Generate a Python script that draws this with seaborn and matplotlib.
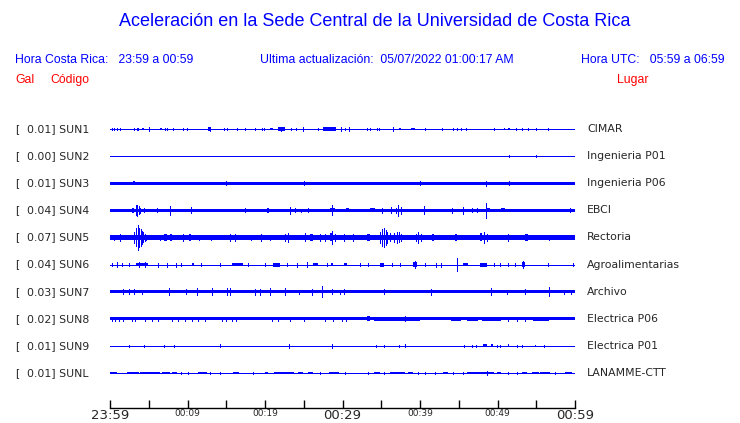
import numpy as np
import pandas as pd
import seaborn as sns
import matplotlib.pyplot as plt
from matplotlib.transforms import blended_transform_factory

# station table
codes = ['SUN1', 'SUN2', 'SUN3', 'SUN4', 'SUN5', 'SUN6', 'SUN7', 'SUN8', 'SUN9', 'SUNL']
places = ['CIMAR', 'Ingenieria P01', 'Ingenieria P06', 'EBCI', 'Rectoria',
          'Agroalimentarias', 'Archivo', 'Electrica P06', 'Electrica P01', 'LANAMME-CTT']
peak_gal = [0.01, 0.00, 0.01, 0.04, 0.07, 0.04, 0.03, 0.02, 0.01, 0.01]

# continuous noise level of each trace (gal, half amplitude)
base_gal = [0.003, 0.003, 0.009, 0.008, 0.012, 0.003, 0.010, 0.009, 0.003, 0.003]

# bursts: (start minute, end minute, half amplitude in gal)
ev_sun1 = [(0.2, 0.2, .007), (0.5, 0.6, .008), (0.86, .86, .007), (1.29, 1.29, .007), (3.14, 3.14, .007),
           (3.44, 3.44, .007), (3.66, 3.66, .006), (4.1, 4.4, .008), (5.07, 5.07, .013), (6.4, 6.7, .008),
           (7.1, 7.1, .007), (7.31, 7.31, .007), (8.08, 8.08, .007), (9.46, 9.46, .007), (9.89, 9.89, .006),
           (12.7, 13.0, .009), (12.9, 12.9, .012), (14.75, 14.75, .006), (15.05, 15.05, .006),
           (16.34, 16.34, .007), (17.42, 17.42, .007), (18.7, 18.9, .008), (19.57, 19.57, .007),
           (19.91, 19.91, .007), (20.7, 21.0, .008), (21.7, 22.6, .009), (22.0, 22.0, .012),
           (23.35, 23.35, .007), (24.0, 24.2, .008), (24.94, 24.94, .012), (26.88, 26.88, .006),
           (27.5, 29.2, .009), (29.76, 29.76, .012), (30.32, 30.32, .008), (30.8, 31.0, .01),
           (30.87, 30.87, .013), (33.11, 33.11, .007), (33.54, 33.54, .008), (34.4, 34.4, .006),
           (34.74, 34.74, .007), (36.55, 36.55, .012), (37.3, 37.5, .008), (38.9, 39.3, .008),
           (40.64, 40.64, .007), (42.87, 42.87, .007), (44.2, 44.2, .007), (44.72, 44.72, .007),
           (45.24, 45.24, .007), (45.88, 45.88, .007), (49.58, 49.58, .007), (50.8, 51.0, .008),
           (51.3, 51.6, .008), (52.33, 52.33, .007), (53.19, 53.19, .007), (53.88, 53.88, .006),
           (54.91, 54.91, .007), (56.55, 56.55, .005)]
ev_sun2 = [(51.47, 51.47, .006), (54.91, 54.91, .006)]
ev_sun3 = [(3.0, 3.2, .010), (15.0, 15.2, .010), (25.0, 25.0, .010), (40.0, 40.0, .010),
           (48.5, 48.5, .014), (51.5, 51.5, .011)]
ev_sun4 = [(2.9, 3.1, .015), (3.3, 3.3, .027), (3.5, 3.5, .03), (3.7, 3.7, .022), (3.9, 4.0, .013),
           (4.39, 4.39, .012), (6.1, 6.1, .012), (7.74, 7.74, .025), (10.45, 10.45, .017),
           (17.4, 17.4, .011), (20.2, 20.5, .013), (23.2, 23.2, .018), (23.9, 24.0, .011),
           (24.7, 24.7, .01), (25.6, 25.6, .011), (28.4, 29.0, .012), (28.7, 28.7, .027),
           (30.5, 30.9, .012), (33.6, 34.2, .011), (35.1, 35.1, .015), (36.2, 36.2, .016),
           (36.9, 37.0, .015), (37.2, 37.2, .03), (37.5, 37.5, .018), (40.5, 40.5, .022),
           (44.1, 44.1, .013), (45.6, 45.6, .018), (46.7, 46.7, .011), (47.3, 47.3, .011),
           (48.5, 48.5, .042), (48.7, 49.0, .012), (50.5, 51.0, .011), (59.3, 59.3, .011)]
ev_sun5 = [(0.5, 0.6, .016), (1.3, 1.5, .017), (2.0, 2.2, .016), (3.1, 3.2, .03), (3.4, 3.4, .05),
           (3.55, 3.55, .062), (3.66, 3.66, .07), (3.8, 3.8, .055), (3.95, 3.95, .045), (4.1, 4.1, .035),
           (4.3, 4.3, .028), (4.5, 4.5, .02), (4.7, 4.8, .016), (6.5, 6.6, .016), (7.0, 7.3, .019),
           (7.7, 8.0, .017), (9.4, 9.6, .018), (10.2, 10.4, .019), (11.5, 11.7, .016), (13.0, 13.2, .016),
           (15.5, 15.7, .017), (16.1, 16.1, .019), (18.2, 18.4, .016), (19.5, 19.7, .017),
           (20.6, 20.8, .016), (22.6, 22.8, .019), (23.0, 23.0, .024), (25.1, 25.1, .022),
           (25.8, 26.2, .02), (27.1, 27.3, .017), (27.7, 27.7, .018), (28.4, 28.6, .022),
           (28.7, 28.7, .038), (29.0, 29.2, .02), (30.2, 30.3, .018), (31.4, 31.4, .019),
           (33.2, 33.5, .017), (34.9, 35.0, .03), (35.15, 35.15, .045), (35.4, 35.4, .053),
           (35.6, 35.6, .042), (35.8, 35.9, .03), (36.1, 36.3, .022), (36.7, 36.7, .024),
           (37.0, 37.0, .033), (37.25, 37.25, .028), (37.5, 37.6, .018), (39.5, 39.6, .02),
           (39.8, 39.8, .03), (40.1, 40.2, .02), (41.5, 41.8, .017), (43.0, 43.3, .016),
           (44.5, 44.8, .017), (46.3, 46.6, .016), (47.8, 48.0, .022), (48.3, 48.3, .033),
           (48.6, 48.7, .02), (51.4, 51.4, .017), (53.5, 53.9, .019), (54.8, 55.0, .016),
           (56.7, 56.9, .015)]
ev_sun6 = [(0.2, 0.2, .008), (0.86, 0.86, .016), (1.5, 1.5, .01), (2.45, 2.45, .008), (3.4, 4.9, .009),
           (3.7, 3.7, .013), (4.5, 4.5, .013), (6.2, 6.2, .011), (7.4, 7.6, .011), (8.5, 8.5, .011),
           (9.1, 9.1, .007), (10.6, 10.9, .009), (11.8, 11.8, .007), (14.2, 14.2, .006),
           (15.7, 17.2, .009), (17.8, 17.8, .007), (20.0, 20.0, .009), (21.0, 21.9, .011),
           (22.9, 22.9, .007), (24.1, 24.1, .011), (25.4, 25.4, .014), (26.2, 26.9, .009),
           (28.0, 28.0, .009), (28.5, 28.8, .009), (30.2, 30.6, .009), (32.2, 32.2, .009),
           (33.3, 33.3, .006), (34.8, 35.3, .011), (36.4, 36.4, .009), (37.4, 37.4, .009),
           (39.1, 39.6, .012), (39.3, 39.3, .018), (40.6, 40.6, .007), (42.0, 42.0, .011),
           (42.7, 42.7, .011), (44.8, 44.8, .038), (45.5, 46.2, .008), (47.8, 48.6, .011),
           (49.5, 49.5, .008), (50.3, 50.3, .008), (51.4, 51.4, .009), (52.2, 52.2, .007),
           (53.1, 53.6, .012), (53.3, 53.3, .018), (56.5, 56.5, .009), (59.8, 59.8, .007)]
ev_sun7 = [(1.7, 1.7, .014), (2.45, 2.45, .014), (3.14, 3.14, .013), (4.17, 4.17, .012), (7.6, 7.6, .018),
           (9.76, 9.76, .014), (11.2, 11.2, .018), (13.2, 13.2, .021), (15.05, 15.05, .018),
           (15.5, 15.5, .018), (18.7, 18.7, .016), (19.35, 19.35, .016), (20.6, 20.6, .018),
           (22.6, 22.6, .018), (24.4, 24.4, .012), (26.1, 26.1, .016), (27.4, 27.4, .03),
           (28.6, 28.6, .013), (29.7, 29.7, .012), (30.2, 30.2, .014), (35.4, 35.4, .014),
           (41.4, 41.4, .016), (49.2, 49.2, .018), (51.2, 51.2, .012), (53.6, 53.6, .013),
           (56.7, 56.7, .024), (58.6, 58.6, .012), (59.5, 59.5, .012)]
ev_sun8 = [(0.2, 0.2, .012), (0.65, .65, .012), (1.1, 1.1, .012), (1.7, 1.7, .012), (2.8, 2.8, .012),
           (3.2, 3.2, .012), (4.5, 4.5, .012), (5.4, 5.4, .012), (6.2, 6.2, .012), (8.0, 8.0, .012),
           (8.8, 8.8, .011), (9.7, 9.7, .011), (10.6, 10.6, .011), (11.4, 11.4, .011), (12.3, 12.3, .011),
           (14.4, 14.4, .012), (15.0, 15.0, .012), (15.7, 15.7, .012), (16.3, 16.3, .011),
           (20.9, 20.9, .011), (21.7, 21.7, .011), (23.2, 23.2, .012), (25.0, 25.0, .011),
           (27.7, 27.7, .012), (28.8, 28.8, .012), (29.9, 29.9, .011), (30.5, 30.5, .011),
           (33.2, 33.5, .013), (34.0, 40.0, .0115), (38.0, 38.0, .014), (44.0, 45.3, .012),
           (46.0, 47.5, .012), (48.0, 50.5, .012), (51.4, 51.4, .012), (52.5, 52.5, .012),
           (53.6, 53.6, .012), (54.6, 56.6, .012)]
ev_sun9 = [(2.4, 2.4, .006), (4.4, 4.4, .006), (7.0, 7.0, .006), (8.2, 8.2, .006), (14.2, 14.2, .008),
           (23.1, 23.1, .01), (28.7, 28.7, .01), (34.3, 34.3, .006), (35.4, 35.4, .007), (37.3, 37.3, .007),
           (38.1, 38.1, .008), (45.7, 45.7, .006), (46.7, 46.7, .007), (47.2, 47.2, .006),
           (48.1, 48.6, .009), (49.1, 49.4, .009), (49.9, 49.9, .006), (50.3, 50.3, .006),
           (51.3, 51.5, .008), (52.5, 52.5, .006), (53.1, 53.1, .006), (54.8, 55.0, .007), (56.0, 56.0, .006)]
ev_sunl = [(0.0, 0.9, .008), (2.2, 3.7, .008), (3.9, 6.5, .008), (6.7, 7.7, .007), (8.0, 8.6, .007),
           (9.2, 9.2, .007), (10.0, 10.0, .007), (11.4, 12.5, .008), (12.9, 12.9, .007), (14.2, 14.2, .007),
           (15.9, 16.6, .008), (18.5, 18.5, .007), (20.0, 20.4, .007), (21.1, 23.7, .008),
           (24.3, 24.9, .007), (25.5, 26.2, .008), (27.1, 27.1, .006), (28.2, 29.5, .008),
           (30.3, 30.3, .006), (33.3, 33.3, .006), (34.1, 34.8, .008), (35.3, 35.3, .006),
           (36.1, 38.1, .008), (38.5, 39.1, .008), (39.8, 39.8, .006), (40.6, 40.6, .006),
           (41.9, 41.9, .006), (43.0, 43.6, .008), (44.3, 44.3, .006), (45.6, 45.6, .006),
           (46.0, 49.5, .008), (48.7, 48.8, .012), (49.9, 50.5, .008), (51.4, 51.4, .006),
           (52.5, 52.5, .006), (53.1, 53.8, .008), (54.4, 55.3, .008), (55.5, 56.8, .008),
           (57.4, 57.4, .006), (58.7, 59.6, .008)]
events = [ev_sun1, ev_sun2, ev_sun3, ev_sun4, ev_sun5, ev_sun6, ev_sun7, ev_sun8, ev_sun9, ev_sunl]

tick_min = list(range(0, 61, 5))
tick_txt = {0: '23:59', 10: '00:09', 20: '00:19', 30: '00:29', 40: '00:39', 50: '00:49', 60: '00:59'}

BLUE = '#0000ff'
RED = '#ff0000'
k = 6.64   # rows per gal

sns.set_theme(style='white')
plt.rcParams['font.family'] = ['DejaVu Sans']

fig = plt.figure(figsize=(7.4, 4.23), dpi=100)
ax = fig.add_axes([110 / 740, 1 - 408 / 423, 465 / 740, (408 - 115) / 423])

# baselines
df = pd.DataFrame({'minute': [0, 60] * len(codes),
                   'row': np.repeat(np.arange(len(codes)), 2),
                   'code': np.repeat(codes, 2)})
sns.lineplot(data=df, x='minute', y='row', units='code', estimator=None,
             color=BLUE, lw=0.7, ax=ax, antialiased=False)

for i in range(len(codes)):
    b = base_gal[i]
    if b > 0.004:
        ax.fill_between([0, 60], i - b * k, i + b * k, color=BLUE, linewidth=0,
                        antialiased=False)
    for t0, t1, a in events[i]:
        if t1 - t0 >= 0.2:
            ax.fill_between([t0, t1], i - a * k, i + a * k, color=BLUE, linewidth=0,
                            antialiased=False)
        else:
            ax.vlines(t0, i - a * k, i + a * k, color=BLUE, linewidth=0.72,
                      antialiased=False)

ax.set_xlim(0, 60)
ax.set_ylim(9 + 35 / 27.1, -14 / 27.1)
ax.set_yticks([])
ax.set_xlabel('')
ax.set_ylabel('')
for s in ['top', 'left', 'right']:
    ax.spines[s].set_visible(False)
ax.spines['bottom'].set_color('black')
ax.spines['bottom'].set_linewidth(1.0)
ax.set_xticks(tick_min)
ax.set_xticklabels([tick_txt.get(m, '') for m in tick_min])
ax.tick_params(axis='x', direction='in', length=6, width=1, color='black', pad=1,
               bottom=True)
for m, lbl in zip(tick_min, ax.get_xticklabels()):
    lbl.set_fontsize(9.5 if m in (0, 30, 60) else 6.5)

# row labels
tr = blended_transform_factory(fig.transFigure, ax.transData)
for i in range(len(codes)):
    ax.text(15 / 740, i, '[', transform=tr, ha='left', va='center', fontsize=7.8)
    ax.text(27 / 740, i, f'{peak_gal[i]:.2f}] {codes[i]}', transform=tr, ha='left',
            va='center', fontsize=7.8)
    ax.text(587 / 740, i, places[i], transform=tr, ha='left', va='center', fontsize=7.8)

hdr = dict(family='Liberation Sans', fontsize=8.8)
fig.text(375 / 740, 1 - 22 / 423, 'Aceleración en la Sede Central de la Universidad de Costa Rica',
         ha='center', va='center', color=BLUE, family='Liberation Sans', fontsize=13)
fig.text(15 / 740, 1 - 60 / 423, 'Hora Costa Rica:   23:59 a 00:59', ha='left', va='center',
         color=BLUE, **hdr)
fig.text(260 / 740, 1 - 60 / 423, 'Ultima actualización:  05/07/2022 01:00:17 AM', ha='left',
         va='center', color=BLUE, **hdr)
fig.text(725 / 740, 1 - 60 / 423, 'Hora UTC:   05:59 a 06:59', ha='right', va='center',
         color=BLUE, **hdr)
fig.text(15 / 740, 1 - 80 / 423, 'Gal', ha='left', va='center', color=RED, **hdr)
fig.text(50 / 740, 1 - 80 / 423, 'Código', ha='left', va='center', color=RED, **hdr)
fig.text(648 / 740, 1 - 80 / 423, 'Lugar', ha='right', va='center', color=RED, **hdr)

fig.savefig('out.png', dpi=100, facecolor='white')
